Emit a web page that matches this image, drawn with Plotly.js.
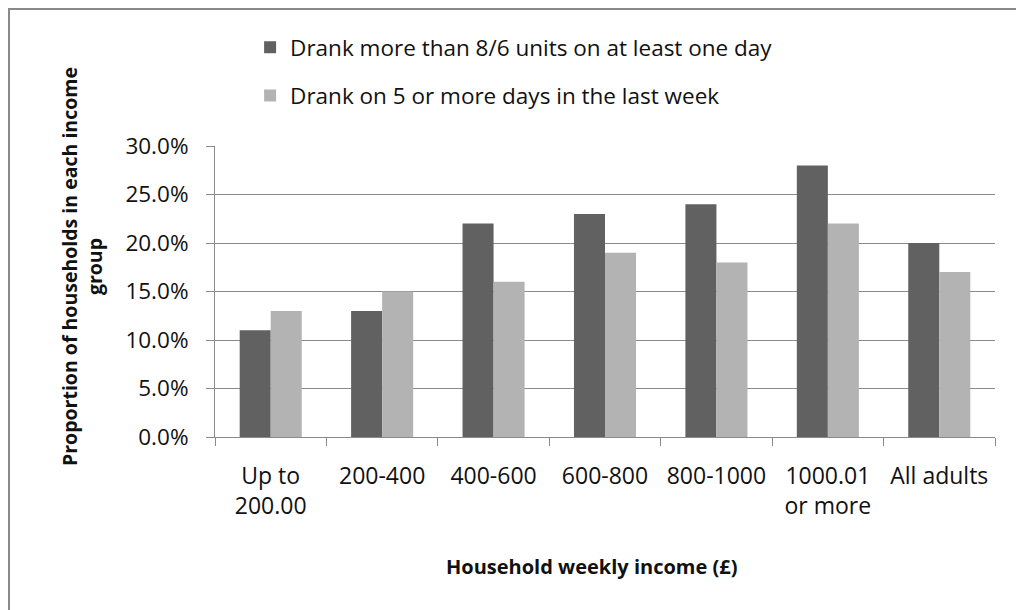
<!DOCTYPE html>
<html>
<head>
<meta charset="utf-8">
<script src="https://cdn.plot.ly/plotly-3.0.1.min.js"></script>
<style>
  html, body { margin: 0; padding: 0; background: #fff; overflow: hidden; }
  #chart { width: 1016px; height: 610px; }
  #frame { position: absolute; left: 8px; top: 8px; width: 1100px; height: 700px;
           border: 2px solid #8a8a8a; pointer-events: none; }
</style>
</head>
<body>
<div id="chart"></div>
<div id="frame"></div>
<script>
const categories = ['Up to<br>200.00', '200-400', '400-600', '600-800', '800-1000', '1000.01<br>or more', 'All adults'];
const seriesNames = ['Drank more than 8/6 units on at least one day', 'Drank on 5 or more days in the last week'];
const drankMore = [11, 13, 22, 23, 24, 28, 20];
const drank5Days = [13, 15, 16, 19, 18, 22, 17];
const yTickVals = [0, 5, 10, 15, 20, 25, 30];
const yTickText = ['0.0%', '5.0%', '10.0%', '15.0%', '20.0%', '25.0%', '30.0%'];
const xTitle = 'Household weekly income (£)';
const yTitle = 'Proportion of households in each income<br>group';

const FONT = 'Open Sans, Noto Sans, sans-serif';
const textColor = '#111';

const traces = [
  { type: 'bar', name: seriesNames[0], x: categories, y: drankMore,
    marker: { color: '#616161', line: { width: 0 } }, legendgroup: 'a', hoverinfo: 'x+y' },
  { type: 'bar', name: seriesNames[1], x: categories, y: drank5Days,
    marker: { color: '#b3b3b3', line: { width: 0 } }, legendgroup: 'b', hoverinfo: 'x+y' }
];

const layout = {
  width: 1016, height: 610,
  margin: { l: 215, r: 21, t: 146, b: 173 },
  paper_bgcolor: '#fff', plot_bgcolor: '#fff',
  font: { family: FONT, size: 20, color: textColor },
  barmode: 'group', bargap: 0.443, bargroupgap: 0,
  showlegend: true,
  legend: {
    x: 0.045, y: 1.412, xanchor: 'left', yanchor: 'top',
    orientation: 'v', traceorder: 'grouped', tracegroupgap: 16,
    font: { family: FONT, size: 22.5, color: textColor },
    bgcolor: 'rgba(0,0,0,0)'
  },
  xaxis: {
    type: 'category', tickson: 'boundaries', ticks: 'outside', ticklen: 8,
    tickcolor: '#8a8a8a', tickwidth: 1,
    showline: true, linecolor: '#8a8a8a', linewidth: 1,
    showgrid: false, zeroline: false,
    tickangle: 0,
    tickfont: { family: FONT, size: 23, color: textColor },
    ticklabelstandoff: 18,
    automargin: false
  },
  yaxis: {
    range: [0, 30], tickvals: yTickVals, ticktext: yTickText,
    ticks: 'outside', ticklen: 8, tickcolor: '#8a8a8a', tickwidth: 1,
    showline: true, linecolor: '#8a8a8a', linewidth: 1,
    showgrid: true, gridcolor: '#8a8a8a', gridwidth: 1, zeroline: false,
    tickfont: { family: FONT, size: 22.5, color: textColor },
    ticklabelstandoff: 13,
    automargin: false
  },
  annotations: [
    { text: xTitle, xref: 'paper', yref: 'paper',
      x: (591 - 215) / 780, y: (437 - 566) / 291, xanchor: 'center', yanchor: 'middle',
      showarrow: false, font: { family: FONT, size: 20, color: textColor, weight: 'bold' } },
    { text: yTitle, xref: 'paper', yref: 'paper', textangle: -90,
      x: (82 - 215) / 780, y: (437 - 267) / 291, xanchor: 'center', yanchor: 'middle',
      showarrow: false, align: 'center',
      font: { family: FONT, size: 19.5, color: textColor, weight: 'bold' } }
  ]
};

Plotly.newPlot('chart', traces, layout, { displayModeBar: false, staticPlot: true });
</script>
</body>
</html>
